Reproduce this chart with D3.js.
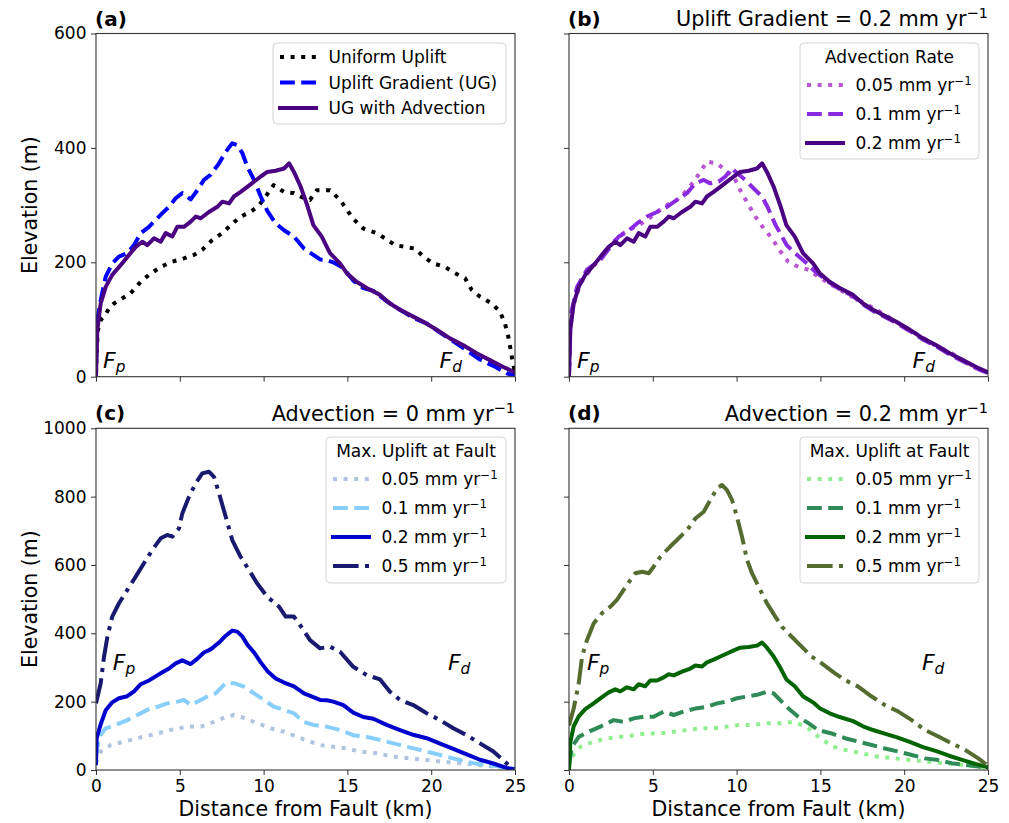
<!DOCTYPE html>
<html>
<head>
<meta charset="utf-8">
<script src="https://cdn.jsdelivr.net/npm/d3@7"></script>
<style>
  body { margin: 0; background: #fff; }
  svg { display: block; }
  text { font-family: "DejaVu Sans", sans-serif; fill: #000; }
</style>
</head>
<body>
<svg id="fig" width="1009" height="823"></svg>
<script>
// ---- Elevation profiles: [distance from fault (km), elevation (m)] ----
const uniformUplift = [[0,5],[0.05,50],[0.12,82],[0.3,100],[0.48,105],[0.84,122],[1.07,128],[2.07,146],[2.67,166],[3.16,178],[3.86,192],[4.55,201],[5.25,207],[5.85,213],[6.34,222],[6.94,239],[7.54,251],[8.04,265],[8.63,280],[9.23,288],[9.73,300],[10.12,315],[10.6,335],[11.22,323],[11.81,321],[12.41,312],[12.77,309],[13.17,326],[13.96,326],[14.56,309],[15.35,276],[15.95,259],[16.75,251],[17.24,242],[17.84,230],[18.44,227],[19.03,224],[19.53,210],[20.13,198],[20.82,192],[21.42,181],[22.02,172],[22.41,152],[22.91,140],[23.61,128],[24.1,114],[24.4,93],[24.6,70],[24.74,47],[24.86,26],[25,8]];

// uplift gradient 0.2 mm/yr, no advection
const upliftGradient = [[0,20],[0.02,58],[0.04,93],[0.28,134],[0.58,175],[0.97,198],[1.37,210],[1.87,216],[2.27,230],[2.67,251],[3.16,262],[3.56,274],[3.96,286],[4.36,297],[4.75,312],[5.15,321],[5.65,310],[6.05,326],[6.44,344],[6.84,353],[7.34,373],[7.74,393],[8.13,408],[8.43,405],[8.73,391],[9.03,367],[9.43,344],[9.83,315],[10.22,290],[10.72,268],[11.22,256],[11.81,245],[12.41,224],[12.97,213],[13.37,205],[13.76,204],[14.16,200],[14.76,190],[15.35,168],[15.95,155],[16.55,150],[17.34,132],[18.14,117],[18.93,103],[19.73,93],[20.53,77],[21.32,62],[22.12,46],[22.91,30],[23.71,19],[24.5,6],[25,2]];

// uplift gradient 0.2 mm/yr with advection 0.2 mm/yr
const ugAdvection = [[0,0],[0.08,82],[0.28,128],[0.58,157],[0.97,178],[1.47,195],[1.97,213],[2.37,227],[2.76,236],[3.06,230],[3.46,242],[3.86,236],[4.16,251],[4.55,245],[4.85,262],[5.25,262],[5.65,271],[5.95,280],[6.25,277],[6.74,288],[7.24,297],[7.54,306],[7.94,303],[8.23,315],[8.63,323],[9.03,332],[9.43,341],[9.83,350],[10.22,358],[10.72,360],[11.22,364],[11.52,373],[11.81,358],[12.2,333],[12.6,300],[12.97,265],[13.47,245],[13.96,216],[14.56,198],[14.96,181],[15.55,166],[16.15,155],[16.95,143],[17.54,128],[18.14,117],[18.93,105],[19.53,96],[20.33,82],[21.12,67],[21.92,55],[22.71,41],[23.5,29],[24.3,17],[24.9,9],[25,8]];

// advection rate series (uplift gradient 0.2 mm/yr)
const advection005 = [[0,0],[0.05,70],[0.18,117],[0.68,163],[1.27,187],[1.87,207],[2.47,230],[3.06,248],[3.56,256],[4.16,265],[4.65,274],[5.25,288],[5.85,300],[6.44,309],[6.94,323],[7.44,341],[7.83,358],[8.23,376],[8.83,373],[9.33,361],[9.83,350],[10.22,326],[10.72,300],[11.12,280],[11.62,259],[12.11,242],[12.51,223],[13.08,201],[13.68,192],[14.28,187],[14.87,175],[15.87,157],[16.87,140],[17.86,125],[18.85,108],[19.85,90],[20.84,73],[21.84,55],[22.83,41],[23.83,23],[24.72,9],[25,5]];
const advection01 = [[0,0],[0.08,105],[0.48,157],[1.07,187],[1.87,204],[2.47,227],[2.97,245],[3.46,253],[4.06,268],[4.65,280],[5.25,288],[5.85,297],[6.44,309],[7.04,321],[7.54,338],[8.04,344],[8.43,338],[8.93,341],[9.33,350],[9.73,364],[10.02,356],[10.52,344],[11.02,329],[11.52,315],[11.89,294],[12.31,266],[12.71,245],[12.99,230],[13.48,216],[14.08,201],[14.68,184],[15.47,166],[16.15,153],[16.95,141],[17.54,126],[18.14,115],[18.93,103],[19.53,94],[20.33,80],[21.12,65],[21.92,53],[22.71,39],[23.5,27],[24.3,15],[25,6]];

// maximum uplift at fault, no advection
const noAdv005 = [[0,20],[0.28,54],[0.88,73],[1.67,83],[2.46,93],[3.26,102],[4.06,112],[4.85,122],[5.65,127],[6.25,127],[6.84,137],[7.54,151],[8.23,161],[8.93,151],[9.62,137],[10.42,122],[11.22,112],[12.01,97],[12.61,86],[13.37,73],[14.16,68],[14.96,63],[15.75,54],[16.75,49],[17.74,39],[18.74,34],[19.73,29],[20.72,24],[21.72,20],[22.71,15],[23.71,10],[25,2]];
const noAdv01 = [[0,40],[0.18,97],[0.58,122],[1.18,132],[1.87,146],[2.46,161],[3.06,176],[3.66,185],[4.25,195],[4.85,200],[5.25,205],[5.65,190],[6.05,200],[6.64,215],[7.14,224],[7.74,254],[8.23,254],[8.83,244],[9.43,224],[10.02,205],[10.62,185],[11.22,176],[11.81,166],[12.37,141],[12.97,132],[13.76,127],[14.56,117],[15.35,102],[16.15,97],[16.95,88],[17.74,78],[18.54,68],[19.33,59],[20.13,49],[20.92,39],[21.72,29],[22.51,20],[23.31,15],[24.1,10],[25,3]];
const noAdv02 = upliftGradient;
const noAdv05 = [[0,195],[0.28,254],[0.48,332],[0.68,390],[0.97,449],[1.37,488],[1.87,527],[2.37,566],[2.86,605],[3.36,644],[3.86,678],[4.25,688],[4.55,683],[4.95,707],[5.15,751],[5.55,800],[5.95,839],[6.34,868],[6.74,873],[7.04,858],[7.34,810],[7.74,741],[8.13,673],[8.63,624],[9.13,585],[9.62,546],[10.22,507],[10.92,478],[11.32,449],[11.81,449],[12.31,415],[12.77,380],[13.37,356],[13.96,361],[14.56,346],[15.35,302],[16.15,278],[16.95,265],[17.54,229],[18.14,205],[18.93,190],[19.73,166],[20.53,146],[21.32,122],[22.12,102],[22.91,78],[23.71,54],[24.3,29],[24.8,5],[25,0]];

// maximum uplift at fault, advection 0.2 mm/yr
const adv005 = [[0,10],[0.18,39],[0.68,68],[1.47,83],[2.27,93],[3.06,97],[3.86,102],[4.65,107],[5.45,107],[6.25,112],[7.04,117],[7.83,122],[8.63,122],[9.43,127],[10.22,132],[11.02,132],[11.81,137],[12.61,137],[13.38,141],[13.98,130],[14.38,118],[14.98,93],[15.77,68],[16.47,59],[17.46,49],[18.45,39],[19.45,34],[20.45,29],[21.44,24],[22.43,20],[23.43,15],[24.42,10],[25,5]];
const adv01 = [[0,15],[0.18,68],[0.58,97],[1.18,112],[1.87,127],[2.67,146],[3.26,141],[3.86,151],[4.46,156],[5.05,156],[5.65,171],[6.25,161],[6.84,171],[7.64,181],[8.23,185],[8.83,195],[9.43,200],[10.02,210],[10.62,215],[11.22,220],[11.81,229],[12.21,224],[12.49,210],[13.08,181],[13.68,156],[14.28,137],[14.87,117],[15.67,107],[16.47,93],[17.26,83],[18.06,73],[18.85,63],[19.65,54],[20.45,44],[21.24,34],[22.04,29],[22.83,20],[23.63,15],[24.42,10],[25,5]];
const adv02 = ugAdvection;
const adv05 = [[0,130],[0.28,180],[0.58,254],[0.78,332],[1.07,380],[1.47,429],[1.97,459],[2.47,478],[2.86,498],[3.26,527],[3.66,556],[3.96,576],[4.36,580],[4.76,576],[5.05,595],[5.45,624],[6.04,654],[6.44,673],[7.04,702],[7.54,736],[8.04,756],[8.43,790],[8.83,824],[9.13,834],[9.43,819],[9.73,790],[10.02,741],[10.32,683],[10.62,615],[10.92,576],[11.32,536],[11.81,488],[12.31,449],[12.71,419],[13.29,390],[13.88,361],[14.48,332],[15.08,312],[15.87,283],[16.47,263],[17.26,244],[18.06,215],[18.85,190],[19.65,171],[20.45,146],[21.24,117],[22.04,98],[22.83,78],[23.63,59],[24.42,34],[24.92,15],[25,10]];

// ---- Axis ticks ----
const xTicks = [0, 5, 10, 15, 20, 25];
const yTicksTop = [0, 200, 400, 600];
const yTicksBottom = [0, 200, 400, 600, 800, 1000];

// ---- Drawing ----
const svg = d3.select('#fig');
const LW = 4;
const DASH = {
  solid: null,
  dotted: `${LW},${LW * 1.65}`,
  dashed: `${LW * 3.7},${LW * 1.6}`,
  dashdot: `${LW * 6.4},${LW * 1.6},${LW},${LW * 1.6}`
};
const MINUS1 = '\u22121';

const panels = [
  {
    tag: '(a)', title: null,
    box: { l: 96, r: 515, t: 33.5, b: 376.7 }, ymax: 600, yticks: yTicksTop,
    yLabels: true, xLabels: false,
    fp: [0.42, 15], fd: [20.5, 15],
    legend: { x: 273, y: 43, w: 233, h: 81, title: null, rows: [57, 82.5, 108] },
    series: [
      { data: uniformUplift, color: '#000000', style: 'dotted', label: ['Uniform Uplift'] },
      { data: upliftGradient, color: '#0000ff', style: 'dashed', label: ['Uplift Gradient (UG)'] },
      { data: ugAdvection, color: '#4b0082', style: 'solid', label: ['UG with Advection'] }
    ]
  },
  {
    tag: '(b)', title: ['Uplift Gradient = 0.2 mm yr', MINUS1],
    box: { l: 569, r: 988, t: 33.5, b: 376.7 }, ymax: 600, yticks: yTicksTop,
    yLabels: false, xLabels: false,
    fp: [0.48, 15], fd: [20.5, 15],
    legend: { x: 800, y: 43, w: 179, h: 116, title: 'Advection Rate', titleY: 57, rows: [85, 114, 143] },
    series: [
      { data: advection005, color: '#ba55d3', style: 'dotted', label: ['0.05 mm yr', MINUS1] },
      { data: advection01, color: '#8a2be2', style: 'dashed', label: ['0.1 mm yr', MINUS1] },
      { data: ugAdvection, color: '#4b0082', style: 'solid', label: ['0.2 mm yr', MINUS1] }
    ]
  },
  {
    tag: '(c)', title: ['Advection = 0 mm yr', MINUS1],
    box: { l: 96, r: 515, t: 428.3, b: 770 }, ymax: 1000, yticks: yTicksBottom,
    yLabels: true, xLabels: true,
    fp: [1.0, 293], fd: [21.0, 293],
    legend: { x: 326, y: 437, w: 180, h: 146, title: 'Max. Uplift at Fault', titleY: 451, rows: [479, 508, 537, 566] },
    series: [
      { data: noAdv005, color: '#b0c4de', style: 'dotted', label: ['0.05 mm yr', MINUS1] },
      { data: noAdv01, color: '#87cefa', style: 'dashed', label: ['0.1 mm yr', MINUS1] },
      { data: noAdv02, color: '#0000cd', style: 'solid', label: ['0.2 mm yr', MINUS1] },
      { data: noAdv05, color: '#191970', style: 'dashdot', label: ['0.5 mm yr', MINUS1] }
    ]
  },
  {
    tag: '(d)', title: ['Advection = 0.2 mm yr', MINUS1],
    box: { l: 569, r: 988, t: 428.3, b: 770 }, ymax: 1000, yticks: yTicksBottom,
    yLabels: false, xLabels: true,
    fp: [1.07, 293], fd: [21.06, 293],
    legend: { x: 800, y: 437, w: 179, h: 146, title: 'Max. Uplift at Fault', titleY: 451, rows: [479, 508, 537, 566] },
    series: [
      { data: adv005, color: '#90ee90', style: 'dotted', label: ['0.05 mm yr', MINUS1] },
      { data: adv01, color: '#2e8b57', style: 'dashed', label: ['0.1 mm yr', MINUS1] },
      { data: adv02, color: '#006400', style: 'solid', label: ['0.2 mm yr', MINUS1] },
      { data: adv05, color: '#556b2f', style: 'dashdot', label: ['0.5 mm yr', MINUS1] }
    ]
  }
];

function writeWithSup(textSel, parts) {
  textSel.append('tspan').text(parts[0]);
  if (parts[1]) {
    textSel.append('tspan').attr('dy', '-0.55em').attr('font-size', '0.7em').text(parts[1]);
  }
}

function styleLine(sel, s) {
  sel.attr('fill', 'none')
    .attr('stroke', s.color)
    .attr('stroke-width', LW)
    .attr('stroke-linejoin', 'round')
    .attr('stroke-linecap', s.style === 'solid' ? 'square' : 'butt');
  if (DASH[s.style]) sel.attr('stroke-dasharray', DASH[s.style]);
  return sel;
}

panels.forEach((p, i) => {
  const { l, r, t, b } = p.box;
  const x = d3.scaleLinear().domain([0, 25]).range([l, r]);
  const y = d3.scaleLinear().domain([0, p.ymax]).range([b, t]);
  const g = svg.append('g');

  const clipId = 'clip' + i;
  g.append('clipPath').attr('id', clipId)
    .append('rect').attr('x', l).attr('y', t).attr('width', r - l).attr('height', b - t);

  // profiles
  const line = d3.line().x(d => x(d[0])).y(d => y(d[1]));
  const plot = g.append('g').attr('clip-path', `url(#${clipId})`);
  p.series.forEach(s => {
    styleLine(plot.append('path').datum(s.data).attr('d', line), s);
  });

  // axes
  const xAxis = d3.axisBottom(x).tickValues(xTicks).tickSize(5).tickPadding(5)
    .tickFormat(p.xLabels ? d3.format('d') : () => '');
  const yAxis = d3.axisLeft(y).tickValues(p.yticks).tickSize(5).tickPadding(4.5)
    .tickFormat(p.yLabels ? d3.format('d') : () => '');

  const gx = g.append('g').attr('transform', `translate(0,${b})`).call(xAxis);
  const gy = g.append('g').attr('transform', `translate(${l},0)`).call(yAxis);
  [gx, gy].forEach(ax => {
    ax.select('.domain').remove();
    ax.selectAll('.tick line').attr('stroke', '#333').attr('stroke-width', 1);
    ax.selectAll('.tick text').attr('font-family', '"DejaVu Sans", sans-serif')
      .attr('font-size', 17).attr('fill', '#111');
  });

  // frame
  g.append('rect').attr('x', l).attr('y', t).attr('width', r - l).attr('height', b - t)
    .attr('fill', 'none').attr('stroke', '#333').attr('stroke-width', 1.1);

  // fault labels
  [['p', p.fp], ['d', p.fd]].forEach(([sub, pos]) => {
    const tx = g.append('text').attr('x', x(pos[0])).attr('y', y(pos[1]))
      .attr('font-size', 22).attr('font-style', 'italic');
    tx.append('tspan').text('F');
    tx.append('tspan').attr('dy', '0.28em').attr('font-size', '0.7em').text(sub);
  });

  // panel tag and title
  g.append('text').attr('x', l - 1).attr('y', t - 8).attr('font-size', 20)
    .attr('font-weight', 'bold').text(p.tag);
  if (p.title) {
    const tt = g.append('text').attr('x', r).attr('y', t - 7.5)
      .attr('font-size', 20.8).attr('text-anchor', 'end');
    writeWithSup(tt, p.title);
  }

  // y label
  if (p.yLabels) {
    g.append('text')
      .attr('transform', `translate(36.5,${(t + b) / 2}) rotate(-90)`)
      .attr('text-anchor', 'middle').attr('font-size', 20.5)
      .text('Elevation (m)');
  }
  // x label
  if (p.xLabels) {
    g.append('text').attr('x', (l + r) / 2).attr('y', 816)
      .attr('text-anchor', 'middle').attr('font-size', 20.5)
      .text('Distance from Fault (km)');
  }

  // legend
  const L = p.legend;
  const lg = g.append('g');
  lg.append('rect').attr('x', L.x).attr('y', L.y).attr('width', L.w).attr('height', L.h)
    .attr('rx', 4).attr('fill', '#fff').attr('fill-opacity', 0.85)
    .attr('stroke', '#d4d4d4').attr('stroke-width', 1);
  if (L.title) {
    lg.append('text').attr('x', L.x + L.w / 2).attr('y', L.titleY).attr('dy', '0.36em')
      .attr('text-anchor', 'middle').attr('font-size', 17).text(L.title);
  }
  p.series.forEach((s, k) => {
    const ry = L.rows[k];
    styleLine(lg.append('line')
      .attr('x1', L.x + 7).attr('x2', L.x + 43).attr('y1', ry).attr('y2', ry), s);
    const tx = lg.append('text').attr('x', L.x + 55.5).attr('y', ry).attr('dy', '0.36em')
      .attr('font-size', 17);
    writeWithSup(tx, s.label);
  });
});
</script>
</body>
</html>
